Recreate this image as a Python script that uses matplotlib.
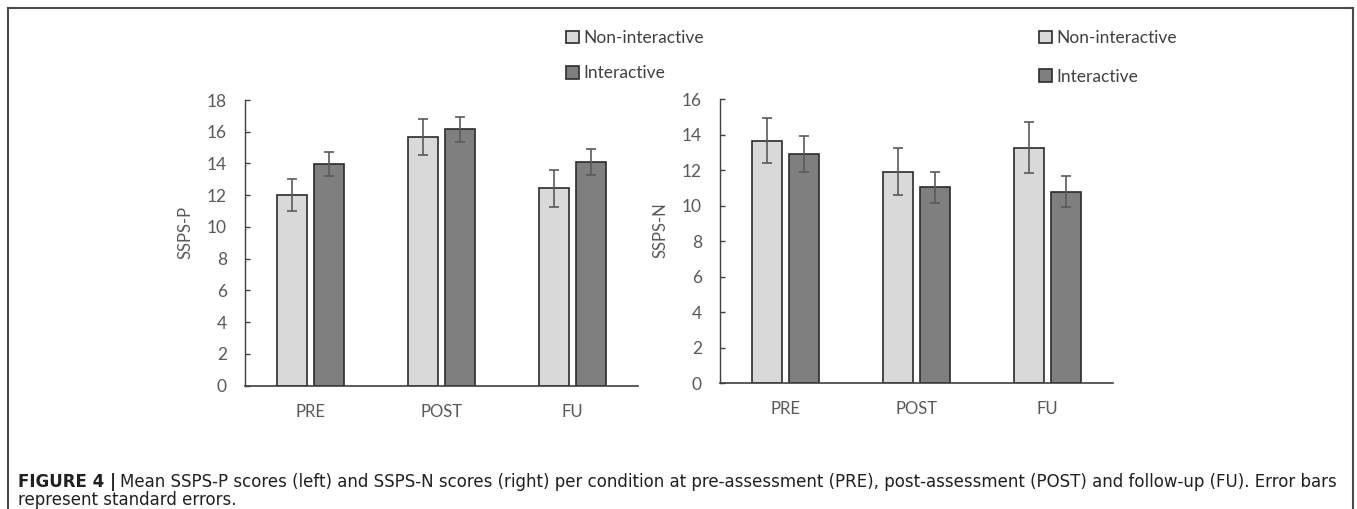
import matplotlib
matplotlib.use("Agg")
import matplotlib.pyplot as plt
import numpy as np
from matplotlib.lines import Line2D

categories = ["PRE", "POST", "FU"]
series = ["Non-interactive", "Interactive"]

p_non = [12.0, 15.67, 12.44]
p_non_err = [1.0, 1.13, 1.18]
p_int = [13.98, 16.15, 14.1]
p_int_err = [0.77, 0.78, 0.8]

n_non = [13.67, 11.93, 13.26]
n_non_err = [1.28, 1.32, 1.44]
n_int = [12.93, 11.05, 10.8]
n_int_err = [1.0, 0.87, 0.87]

W, H = 1357, 509
fig = plt.figure(figsize=(W / 100, H / 100), dpi=100)
fig.patch.set_facecolor("white")

LIGHT = "#d9d9d9"
DARK = "#7f7f7f"
EDGE = "#2b2b2b"
ERR = "#5a5a5a"
TXT = "#595959"
FONT = ["Lato", "DejaVu Sans"]


def px_axes(x0, x1, ytop, ybot):
    return fig.add_axes([x0 / W, (H - ybot) / H, (x1 - x0) / W, (ybot - ytop) / H])


def draw(ax, non, non_err, inter, inter_err, ymax, ylabel, label_y):
    x = np.arange(len(categories))
    w = 0.225
    off = 0.143
    b1 = ax.bar(x - off, non, w, yerr=non_err, color=LIGHT, edgecolor=EDGE, linewidth=1.2,
                error_kw=dict(ecolor=ERR, elinewidth=1.2, capsize=3.6, capthick=1.2),
                label=series[0], zorder=2)
    b2 = ax.bar(x + off, inter, w, yerr=inter_err, color=DARK, edgecolor=EDGE, linewidth=1.2,
                error_kw=dict(ecolor=ERR, elinewidth=1.2, capsize=3.6, capthick=1.2),
                label=series[1], zorder=2)
    ax.set_xlim(-0.5, 2.5)
    ax.set_ylim(0, ymax)
    ax.set_yticks(np.arange(0, ymax + 1, 2))
    ax.set_xticks(x)
    ax.set_xticklabels(categories)
    for s in ["top", "right"]:
        ax.spines[s].set_visible(False)
    ax.spines["left"].set_color("#404040")
    ax.spines["bottom"].set_color("#404040")
    ax.spines["left"].set_linewidth(1.0)
    ax.spines["bottom"].set_linewidth(1.2)
    ax.tick_params(axis="y", direction="in", length=3.6, width=1.0, color="#404040",
                   labelcolor=TXT, labelsize=12.5, pad=13)
    ax.tick_params(axis="x", length=0, labelcolor=TXT, labelsize=12, pad=13)
    for lab in ax.get_xticklabels() + ax.get_yticklabels():
        lab.set_family(FONT)
    ax.set_ylabel(ylabel, color=TXT, fontsize=12, family=FONT)
    ax.yaxis.set_label_coords(-0.132, label_y)
    return b1, b2


ax1 = px_axes(245, 638, 100, 385.7)
h1 = draw(ax1, p_non, p_non_err, p_int, p_int_err, 18, "SSPS-P", 0.538)
ax2 = px_axes(720, 1113, 99.3, 383.3)
h2 = draw(ax2, n_non, n_non_err, n_int, n_int_err, 16, "SSPS-N", 0.54)

leg_kw = dict(frameon=False, handlelength=0.75, handleheight=0.75, handletextpad=0.25,
              borderpad=0, borderaxespad=0, prop=dict(family=FONT, size=12.5),
              labelcolor="#404040", loc="upper left")
fig.legend(h1, series, bbox_to_anchor=(566 / W, 1 - 30 / H), labelspacing=1.12, **leg_kw)
fig.legend(h2, series, bbox_to_anchor=(1039 / W, 1 - 30 / H), labelspacing=1.3, **leg_kw)

# figure frame (top, left, right)
frame_kw = dict(color="#4a4a4a", linewidth=1.5, transform=fig.transFigure)
fig.add_artist(Line2D([8 / W, 8 / W], [0, 1 - 8 / H], **frame_kw))
fig.add_artist(Line2D([8 / W, 1353 / W], [1 - 8 / H, 1 - 8 / H], **frame_kw))
fig.add_artist(Line2D([1353 / W, 1353 / W], [0, 1 - 8 / H], **frame_kw))

# caption
cap_font = ["DejaVu Sans"]
cap_size = 11.95
t1 = fig.text(18 / W, 1 - 482 / H, "FIGURE 4 |", fontsize=cap_size, fontweight="bold",
              family=cap_font, va="center", ha="left", color="#231f20")
fig.canvas.draw()
bb = t1.get_window_extent()
fig.text((bb.x1 + 4) / W, 1 - 482 / H,
         "Mean SSPS-P scores (left) and SSPS-N scores (right) per condition at pre-assessment (PRE), "
         "post-assessment (POST) and follow-up (FU). Error bars",
         fontsize=cap_size, family=cap_font, va="center", ha="left", color="#231f20")
fig.text(18 / W, 1 - 500 / H, "represent standard errors.", fontsize=cap_size,
         family=cap_font, va="center", ha="left", color="#231f20")

fig.savefig("out.png", dpi=100)
